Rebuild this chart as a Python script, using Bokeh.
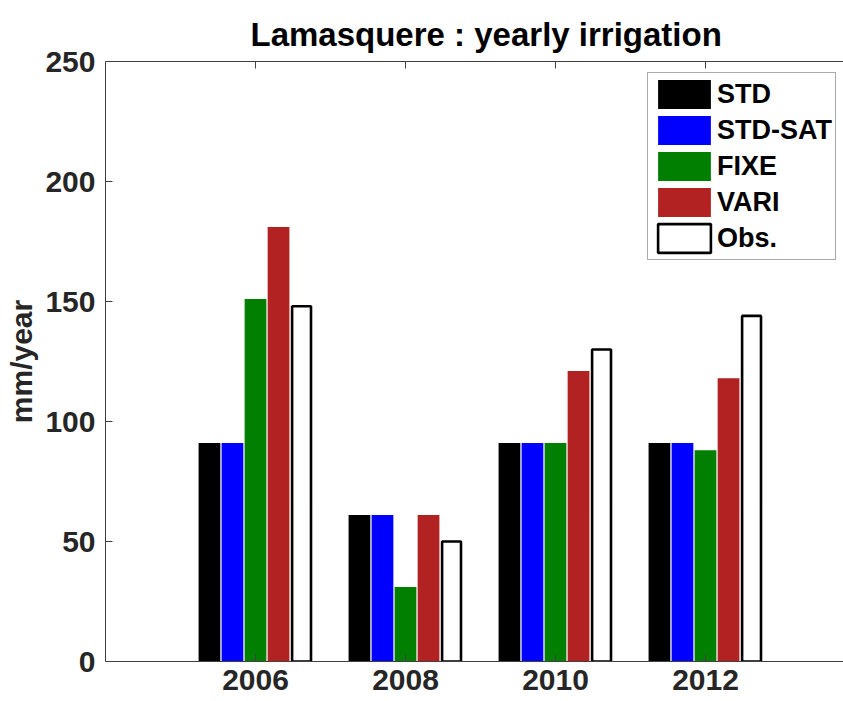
from bokeh.plotting import figure
from bokeh.models import Range1d, FixedTicker, LinearAxis, Legend, LegendItem
from bokeh.embed import file_html
from bokeh.resources import INLINE

# ---- data ----
years = [2006, 2008, 2010, 2012]
std = [91, 61, 91, 91]
std_sat = [91, 61, 91, 91]
fixe = [151, 31, 91, 88]
vari = [181, 61, 121, 118]
obs = [148, 50, 130, 144]
series_names = ["STD", "STD-SAT", "FIXE", "VARI", "Obs."]
y_ticks = [0, 50, 100, 150, 200, 250]
x_ticks = [2006, 2008, 2010, 2012]

FONT = "Liberation Sans"
AX = "#404040"
TXT = "#262626"

p = figure(width=843, height=701, x_range=Range1d(2004, 2013.84), y_range=Range1d(0, 250),
           output_backend="svg", toolbar_location=None,
           min_border_left=105, min_border_right=0, min_border_top=61, min_border_bottom=40)
p.outline_line_color = None
p.grid.visible = False
p.background_fill_color = "white"

p.title.text = "Lamasquere : yearly irrigation"
p.title.text_font = FONT
p.title.text_font_style = "bold"
p.title.text_font_size = "33px"
p.title.text_color = "black"
p.title.align = "left"
p.title.offset = 145
p.title.standoff = 17

series = [std, std_sat, fixe, vari, obs]
fills = ["black", "#0000ff", "#007f00", "#b22222", "white"]
pitch = 0.307
renderers = []
for k, (vals, col) in enumerate(zip(series, fills)):
    xs = [y + (k - 2) * pitch for y in years]
    if k < 4:
        r = p.vbar(x=xs, top=vals, bottom=0, width=0.29, fill_color=col, line_color=None)
    else:
        r = p.vbar(x=xs, top=vals, bottom=0, width=0.252, fill_color="white",
                   line_color="black", line_width=2.6)
    renderers.append(r)

legend = Legend(items=[LegendItem(label=n, renderers=[r]) for n, r in zip(series_names, renderers)],
                location=(542, 401))
legend.border_line_color = "#555555"
legend.border_line_width = 1
legend.background_fill_color = "white"
legend.label_text_font = FONT
legend.label_text_font_style = "bold"
legend.label_text_font_size = "27px"
legend.label_text_color = "black"
legend.glyph_width = 66
legend.glyph_height = 36
legend.label_height = 29
legend.spacing = -2
legend.padding = 3
legend.label_standoff = 0
legend.margin = 0
p.add_layout(legend)

# axes
p.xaxis.ticker = FixedTicker(ticks=x_ticks)
p.yaxis.ticker = FixedTicker(ticks=y_ticks)
for ax in [p.xaxis[0], p.yaxis[0]]:
    ax.major_label_text_font = FONT
    ax.major_label_text_font_style = "bold"
    ax.major_label_text_font_size = "30px"
    ax.major_label_text_color = TXT
    ax.axis_line_color = AX
    ax.major_tick_line_color = AX
    ax.major_tick_in = 7
    ax.major_tick_out = 0
    ax.minor_tick_line_color = None
p.xaxis.major_label_standoff = 8
p.yaxis.major_label_standoff = 10
p.yaxis.axis_label = "mm/year"
p.yaxis.axis_label_text_font = FONT
p.yaxis.axis_label_text_font_style = "bold"
p.yaxis.axis_label_text_font_size = "30px"
p.yaxis.axis_label_text_color = TXT
p.yaxis.axis_label_standoff = 4

top_ax = LinearAxis(ticker=FixedTicker(ticks=x_ticks), major_label_text_font_size="1px",
                    major_label_text_alpha=0, major_label_standoff=0,
                    axis_line_color=AX, major_tick_line_color=AX,
                    major_tick_in=7, major_tick_out=0, minor_tick_line_color=None)
p.add_layout(top_ax, "above")

open("out.html", "w").write(file_html(p, INLINE))
